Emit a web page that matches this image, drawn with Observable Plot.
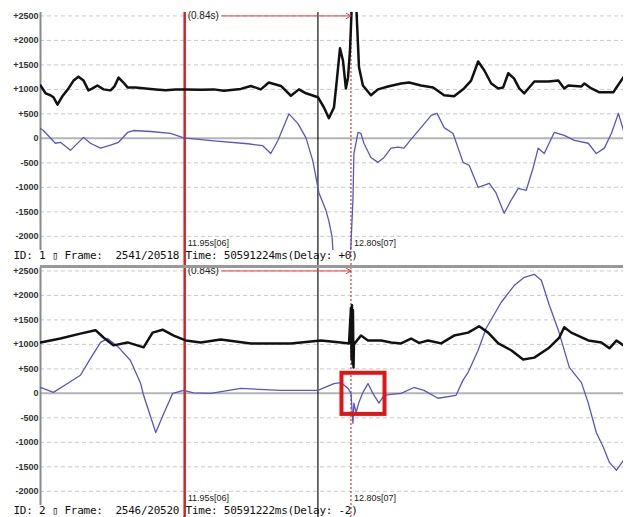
<!DOCTYPE html>
<html><head><meta charset="utf-8">
<script src="https://cdn.jsdelivr.net/npm/d3@7"></script>
<script src="https://cdn.jsdelivr.net/npm/@observablehq/plot@0.6"></script>
<style>
body{margin:0;background:#fff;width:629px;height:517px;overflow:hidden}
svg{display:block}
</style>
</head><body><div id="c"></div>
<script>
// ---- data ----
const yTicks = [-2000, -1500, -1000, -500, 0, 500, 1000, 1500, 2000, 2500];
const timeRange = [11.213, 14.193];
const valueRange = [-2290, 2570];
const cursorTimes = [11.95, 12.80];
const cursorLabels = ["11.95s[06]", "12.80s[07]"];
const nowTime = 12.631;
const intervalLabel = "(0.84s)";
const arrowStart = 12.139;
const idTexts = [
  "ID: 1 \u25AF Frame:  2541/20518 Time: 50591224ms(Delay: +0)",
  "ID: 2 \u25AF Frame:  2546/20520 Time: 50591222ms(Delay: -2)"
];
const highlightBox = {t1: 12.754, t2: 12.974, v1: -430, v2: 410};

const p1BlackT = [11.213,11.239,11.264,11.279,11.300,11.325,11.356,11.382,11.407,11.433,11.458,11.479,11.504,11.535,11.571,11.591,11.612,11.637,11.658,11.699,11.750,11.802,11.853,11.904,11.955,12.032,12.099,12.150,12.237,12.288,12.339,12.380,12.442,12.493,12.534,12.570,12.631,12.662,12.687,12.713,12.728,12.744,12.759,12.774,12.785,12.795,12.805,12.826,12.841,12.861,12.902,12.938,12.989,13.056,13.097,13.158,13.220,13.276,13.327,13.378,13.414,13.450,13.481,13.517,13.553,13.578,13.604,13.634,13.660,13.686,13.711,13.737,13.809,13.860,13.890,13.911,13.978,13.993,14.029,14.070,14.141,14.157,14.193];
const p1BlackV = [1080,920,880,840,690,860,1020,1180,1260,1180,980,1020,1080,1000,980,1060,1240,1140,1040,1040,1020,1000,980,1000,1000,990,1000,970,1010,1070,1000,1140,1070,870,1000,920,840,630,410,630,1200,1840,1590,1020,1250,1800,2800,2800,1450,1080,880,1000,1060,1120,1140,1080,1040,880,860,1020,1180,1570,1390,1120,1020,1040,1330,1220,1020,920,1040,1160,1160,1180,1020,1080,1060,1120,1020,940,940,1040,1250];

const p1BlueT = [11.213,11.228,11.289,11.315,11.366,11.433,11.468,11.520,11.571,11.612,11.658,11.688,11.776,11.878,11.945,12.099,12.273,12.349,12.390,12.426,12.483,12.529,12.570,12.605,12.636,12.672,12.687,12.703,12.713,12.795,12.810,12.815,12.836,12.851,12.866,12.902,12.938,12.969,13.005,13.041,13.071,13.107,13.158,13.210,13.240,13.276,13.322,13.373,13.404,13.450,13.507,13.542,13.583,13.619,13.655,13.696,13.732,13.757,13.788,13.839,13.890,13.942,14.013,14.054,14.095,14.131,14.167,14.193];
const p1BlueV = [200,160,-100,-80,-245,20,-100,-200,-140,-80,120,160,140,100,10,-50,-110,-150,-310,-50,500,300,10,-460,-1110,-1470,-1690,-2000,-2600,-2600,-1260,-310,120,100,-100,-390,-490,-390,-200,-180,-200,-20,220,470,510,220,100,-490,-550,-1000,-920,-1120,-1530,-1260,-1020,-1060,-590,-200,-310,120,60,-40,-100,-310,-200,100,510,160];

const p2BlackT = [11.213,11.315,11.417,11.494,11.535,11.586,11.658,11.740,11.786,11.837,11.894,11.955,12.032,12.134,12.288,12.493,12.646,12.749,12.790,12.800,12.803,12.805,12.808,12.810,12.813,12.815,12.851,12.887,12.954,13.005,13.056,13.107,13.148,13.194,13.261,13.327,13.399,13.455,13.501,13.553,13.619,13.680,13.737,13.809,13.865,13.890,13.926,14.013,14.080,14.121,14.157,14.193];
const p2BlackV = [1040,1120,1220,1290,1140,980,1040,940,1240,1300,1180,1080,1040,1100,1020,1020,1080,1040,1020,1750,700,1800,600,1700,530,1000,1180,1080,1080,1040,1020,1120,1030,1080,1020,1180,1240,1370,1240,1020,880,690,730,920,1140,1350,1240,1080,1040,920,1080,980];

const p2BlueT = [11.213,11.279,11.351,11.417,11.468,11.520,11.556,11.612,11.673,11.725,11.740,11.802,11.843,11.889,11.945,11.996,12.083,12.237,12.442,12.631,12.713,12.749,12.785,12.800,12.810,12.815,12.826,12.841,12.861,12.887,12.912,12.943,12.969,13.005,13.056,13.122,13.173,13.245,13.337,13.373,13.399,13.450,13.491,13.568,13.634,13.686,13.737,13.773,13.814,13.860,13.916,13.978,14.013,14.054,14.090,14.121,14.157,14.193];
const p2BlueV = [120,20,200,370,710,1040,1120,940,670,200,-40,-800,-410,0,60,10,0,100,60,60,200,220,100,0,-610,-200,-390,-180,20,200,0,-200,-40,-20,0,120,60,-100,-40,270,430,880,1330,1860,2200,2370,2430,2310,1800,1290,530,220,-200,-800,-1100,-1410,-1570,-1370];

// ---- drawing ----
const plotH = 238;
const unitsPerPx = (valueRange[1] - valueRange[0]) / plotH;
const fmt = d => d > 0 ? "+" + d : String(d);

function panel({bT, bV, uT, uV, idText, mTop, mBottom, box, separator}) {
  const black = bT.map((t, i) => ({t, v: bV[i]}));
  const blue = uT.map((t, i) => ({t, v: uV[i]}));
  const yLow = valueRange[0] - mBottom * unitsPerPx;
  const marks = [
    Plot.ruleY(yTicks.filter(d => d !== 0), {stroke: "#c9c9c9", strokeWidth: 1, strokeDasharray: "4,3"}),
    Plot.ruleY([0], {stroke: "#b4b4b4", strokeWidth: 2}),
    Plot.ruleX([timeRange[0]], {stroke: "#8a8a8a", strokeWidth: 2}),
    Plot.ruleX([cursorTimes[0]], {y1: yLow, y2: valueRange[1], stroke: "#d42424", strokeWidth: 2.5}),
    Plot.ruleX([nowTime], {y1: yLow, y2: valueRange[1], stroke: "#111", strokeWidth: 1.2}),
    Plot.ruleX([cursorTimes[1]], {y1: yLow, y2: valueRange[1], stroke: "#e06060", strokeWidth: 1.5, strokeDasharray: "2,2"}),
    Plot.line(blue, {x: "t", y: "v", stroke: "#5656c6", strokeWidth: 1.3, clip: true}),
    Plot.line(black, {x: "t", y: "v", stroke: "#111", strokeWidth: 2.5, clip: true}),
    Plot.arrow([0], {x1: arrowStart, x2: cursorTimes[1], y1: 2500, y2: 2500, stroke: "#e03c3c", strokeWidth: 1, headLength: 8}),
    Plot.text([intervalLabel], {x: cursorTimes[0], y: 2500, text: d => d, dx: 3, textAnchor: "start", fill: "#222", fontSize: 10}),
    Plot.text(cursorTimes, {x: d => d, y: valueRange[0], text: (d, i) => cursorLabels[i], dx: 3, dy: -7, textAnchor: "start", fill: "#222", fontSize: 9}),
    Plot.text([idText], {frameAnchor: "bottom-left", text: d => d, dx: -27, dy: 8, textAnchor: "start", fill: "#111", fontSize: 11, fontFamily: "DejaVu Sans Mono"})
  ];
  if (separator) marks.push(Plot.ruleY([valueRange[1]], {stroke: "#999", strokeWidth: 3, dy: -1}));
  if (box) marks.push(Plot.rect([box], {x1: "t1", x2: "t2", y1: "v1", y2: "v2", fill: "none", stroke: "#e01515", strokeWidth: 4}));
  const p = Plot.plot({
    width: 629, height: mTop + plotH + mBottom,
    marginLeft: 40, marginRight: 6, marginTop: mTop, marginBottom: mBottom,
    style: {fontFamily: "Liberation Sans, Arial, sans-serif", fontSize: "9px", background: "#fff", color: "#333"},
    x: {domain: timeRange, axis: null},
    y: {domain: valueRange, ticks: yTicks, tickFormat: fmt, tickSize: 0, tickPadding: 2, label: null, grid: false},
    marks
  });
  p.querySelectorAll("text").forEach(t => { if (t.textContent.startsWith("ID:")) t.setAttribute("letter-spacing", "-0.25"); });
  p.querySelectorAll("g[aria-label='y-axis tick label'] text").forEach(t => { t.setAttribute("font-weight", "bold"); });
  return p;
}

const c = document.getElementById("c");
c.append(panel({bT: p1BlackT, bV: p1BlackV, uT: p1BlueT, uV: p1BlueV, idText: idTexts[0], mTop: 12, mBottom: 15, box: null, separator: false}));
c.append(panel({bT: p2BlackT, bV: p2BlackV, uT: p2BlueT, uV: p2BlueV, idText: idTexts[1], mTop: 2, mBottom: 12, box: highlightBox, separator: true}));
</script>
</body></html>
